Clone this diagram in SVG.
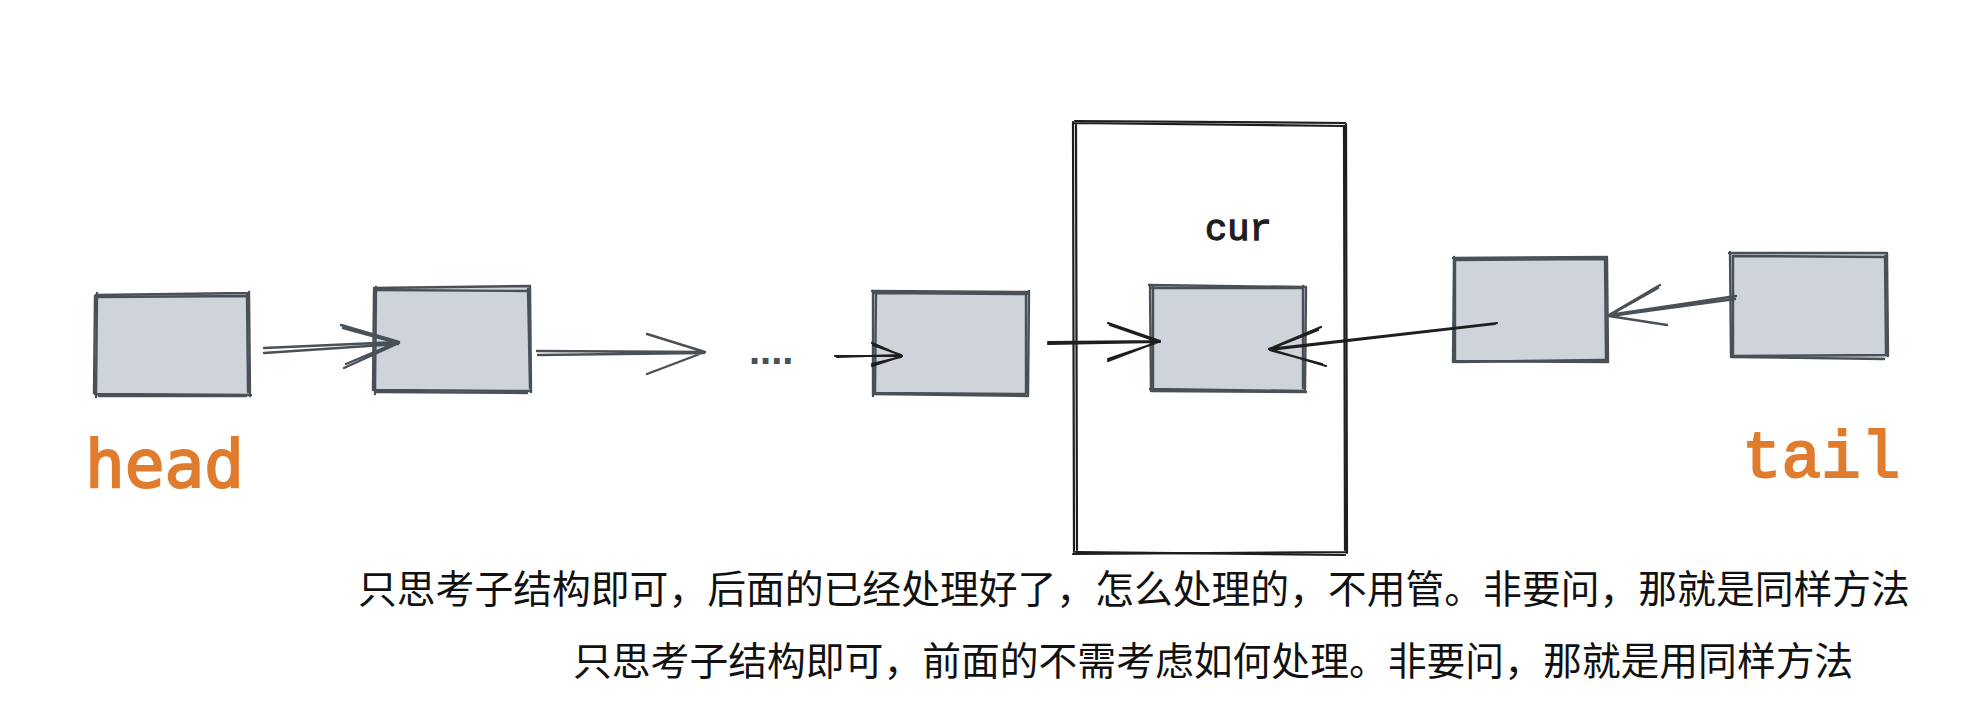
<svg xmlns="http://www.w3.org/2000/svg" width="1984" height="720" viewBox="0 0 1984 720">
<style>
.fill{fill:#ced4da;stroke:none}
.gs{fill:none;stroke:#495057;stroke-width:2.4;stroke-linecap:round;stroke-linejoin:round}
.bs{fill:none;stroke:#1e1e1e;stroke-width:2.2;stroke-linecap:round;stroke-linejoin:round}
.lbl{fill:#e07c2e;stroke:#e07c2e;stroke-width:2}
.cn{font-family:"Noto Sans CJK SC","Noto Sans CJK JP",sans-serif;font-size:38.8px;fill:#111}
</style>
<rect width="1984" height="720" fill="#ffffff"/>
<g id="node-head">
<rect class="fill" x="97" y="294" width="152" height="101"/>
<path class="gs" d="M96,295 L249,293 M249,292 L250,396 M251,395 L95,394 M96,397 L97,293"/>
<path class="gs" d="M98,297 L246,296 M247,295 L248,392 M246,396 L99,396 M94,393 L95,296"/>
</g>
<g id="node-2">
<rect class="fill" x="375" y="287" width="155" height="105"/>
<path class="gs" d="M374,288 L530,286 M530,286 L531,392 M530,391 L375,390 M375,394 L376,287"/>
<path class="gs" d="M377,290 L528,291 M528,289 L530,388 M527,393 L377,392 M373,390 L374,290"/>
</g>
<g id="node-3">
<rect class="fill" x="873" y="291" width="155" height="104"/>
<path class="gs" d="M872,291 L1028,292 M1029,291 L1028,395 M1028,396 L875,394 M873,396 L873,291"/>
<path class="gs" d="M875,293 L1027,294 M1026,293 L1026,393 M1025,394 L874,393 M875,393 L876,292"/>
</g>
<g id="frame-cur">
<path class="bs" d="M1073,123 L1346,126 M1346,124 L1347,553 M1347,552 L1073,554 M1074,552 L1073,122"/>
<path class="bs" d="M1075,121 L1345,123 M1344,127 L1345,550 M1345,555 L1076,552 M1077,550 L1076,125"/>
<text x="1205" y="240" font-family="'Liberation Mono',monospace" font-size="37" fill="#1e1e1e" stroke="#1e1e1e" stroke-width="1.3">cur</text>
</g>
<g id="node-cur">
<rect class="fill" x="1150" y="286" width="156" height="105"/>
<path class="gs" d="M1149,285 L1305,287 M1306,287 L1305,390 M1304,391 L1150,389 M1151,391 L1150,285"/>
<path class="gs" d="M1152,288 L1303,288 M1303,286 L1303,388 M1306,392 L1152,391 M1153,389 L1153,287"/>
</g>
<g id="node-5">
<rect class="fill" x="1453" y="258" width="154" height="104"/>
<path class="gs" d="M1453,258 L1607,257 M1607,258 L1608,362 M1608,362 L1454,361 M1453,362 L1454,257"/>
<path class="gs" d="M1455,260 L1605,259 M1605,259 L1606,360 M1604,360 L1455,362 M1455,360 L1455,260"/>
</g>
<g id="node-tail">
<rect class="fill" x="1730" y="253" width="157" height="105"/>
<path class="gs" d="M1729,253 L1887,253 M1887,253 L1888,356 M1884,359 L1731,357 M1731,357 L1730,252"/>
<path class="gs" d="M1733,256 L1885,257 M1885,256 L1886,355 M1885,355 L1732,356 M1733,354 L1733,256"/>
</g>
<g id="labels">
<text class="lbl" x="85" y="487" font-family="'DejaVu Sans Mono',monospace" font-size="66">head</text>
<text class="lbl" x="1742" y="477" font-family="'Liberation Mono',monospace" font-size="66">tail</text>
<text x="749" y="364" font-family="'Liberation Sans',sans-serif" font-size="40" font-weight="bold" fill="#495057">....</text>
</g>
<g id="connectors">
<path class="gs" d="M264,348 L399,342 M264,353 L398,344 M341,325 L399,342 M344,368 L399,343 M343,328 L398,343 M346,364 L398,342"/>
<path class="gs" d="M537,351 L705,352 M538,355 L704,353 M647,334 L705,352 M647,374 L705,352"/>
<path class="bs" d="M835,356 L902,356 M837,357 L900,355 M872,343 L902,356 M872,366 L902,356 M873,345 L901,355 M872,364 L901,357"/>
<path class="bs" d="M1048,342 L1160,341 M1048,344 L1160,342 M1108,323 L1160,341 M1108,361 L1160,341 M1110,325 L1159,342 M1108,359 L1159,342"/>
<path class="bs" d="M1497,323 L1269,349 M1495,324 L1270,350 M1321,327 L1269,349 M1326,366 L1269,349 M1318,330 L1270,349 M1322,364 L1270,350"/>
<path class="gs" d="M1736,296 L1609,315 M1735,299 L1610,316 M1660,285 L1609,315 M1667,325 L1609,316 M1658,288 L1610,315"/>
</g>
<g id="notes">
<text class="cn" x="358" y="603">只思考子结构即可，后面的已经处理好了，怎么处理的，不用管。非要问，那就是同样方法</text>
<text class="cn" x="573" y="675">只思考子结构即可，前面的不需考虑如何处理。非要问，那就是用同样方法</text>
</g>
</svg>
